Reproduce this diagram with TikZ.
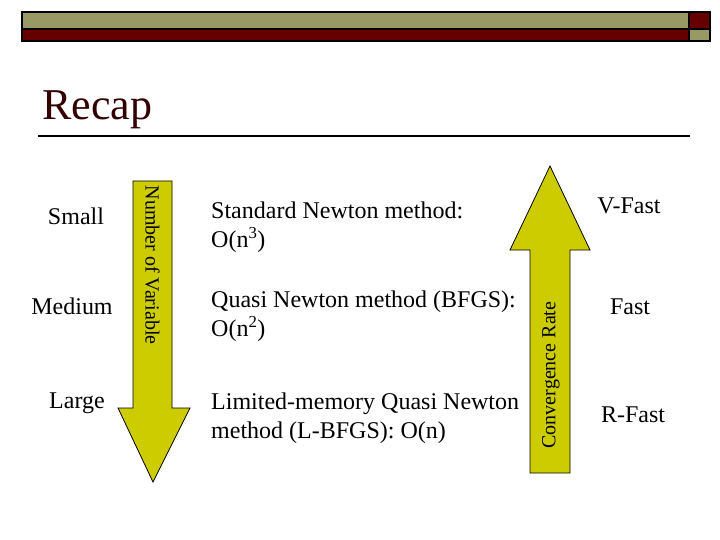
\documentclass[tikz,border=0pt]{standalone}
\usepackage{fontspec}
\setmainfont{Liberation Serif}
\usepackage{tikz}

\definecolor{olivebar}{HTML}{999966}
\definecolor{maroonbar}{HTML}{660000}
\definecolor{titlered}{HTML}{330000}
\definecolor{arrowfill}{HTML}{CCCC00}

\tikzset{
	bar/.style={draw=black, line width=1.5pt},
	bigarrow/.style={draw=black, fill=arrowfill, line width=0.8pt},
	level/.style={font=\fontsize{24}{29}\selectfont},
	method/.style={font=\fontsize{24}{29}\selectfont, align=left, anchor=west, inner sep=0pt},
	axis/.style={font=\fontsize{20}{24}\selectfont}
}

\begin{document}
\begin{tikzpicture}[x=1pt, y=-1pt]
	\useasboundingbox (0, 0) rectangle (720, 540);
	% header bar
	\coordinate (H1) at (22, 12);
	\coordinate (H2) at (689, 29);
	\coordinate (H3) at (710, 41);
	\fill [olivebar] (H1) rectangle (H2);
	\fill [maroonbar] (H1 -| H2) rectangle (H2 -| H3);
	\fill [maroonbar] (H1 |- H2) rectangle (H3 -| H2);
	\fill [olivebar] (H2) rectangle (H3);
	\draw [bar] (H1) rectangle (H3);
	\draw [bar] (H1 |- H2) -- (H2 -| H3);
	\draw [bar] (H1 -| H2) -- (H2 |- H3);
	% title
	\node [anchor=base west, inner sep=0pt, text=titlered, font=\fontsize{44}{50}\selectfont] (title) at (42, 120) {Recap};
	\draw [line width=2.5pt] (38, 136) coordinate (T1) -- (690, 136) coordinate (T2);
	% down arrow
	\draw [bigarrow] (133, 181) -- (172, 181) -- (172, 408) -- (190, 408) -- (153, 482)
		-- (118, 408) -- (133, 408) -- cycle;
	\node [axis, rotate=-90] (vars) at (152.5, 265) {Number of Variable};
	% up arrow
	\draw [bigarrow] (530, 473) -- (530, 250) -- (510, 250) -- (550, 166) -- (590, 250)
		-- (570, 250) -- (570, 473) -- cycle;
	\node [axis, rotate=90] (rate) at (551, 375) {Convergence Rate};
	% sizes
	\node [level] (small) at (76, 216) {Small};
	\node [level] (medium) at (72, 306) {Medium};
	\node [level] (large) at (77, 403) {Large};
	% methods
	\node [method] (newton) at (211, 227) {Standard Newton method:\\O(n\textsuperscript{3})};
	\node [method] (bfgs) at (211, 316) {Quasi Newton method (BFGS):\\O(n\textsuperscript{2})};
	\node [method] (lbfgs) at (211, 418) {Limited-memory Quasi Newton\\method (L-BFGS): O(n)};
	% rates
	\node [level] (vfast) at (629, 206) {V-Fast};
	\node [level] (fast) at (630, 307) {Fast};
	\node [level] (rfast) at (633, 415) {R-Fast};
\end{tikzpicture}
\end{document}
